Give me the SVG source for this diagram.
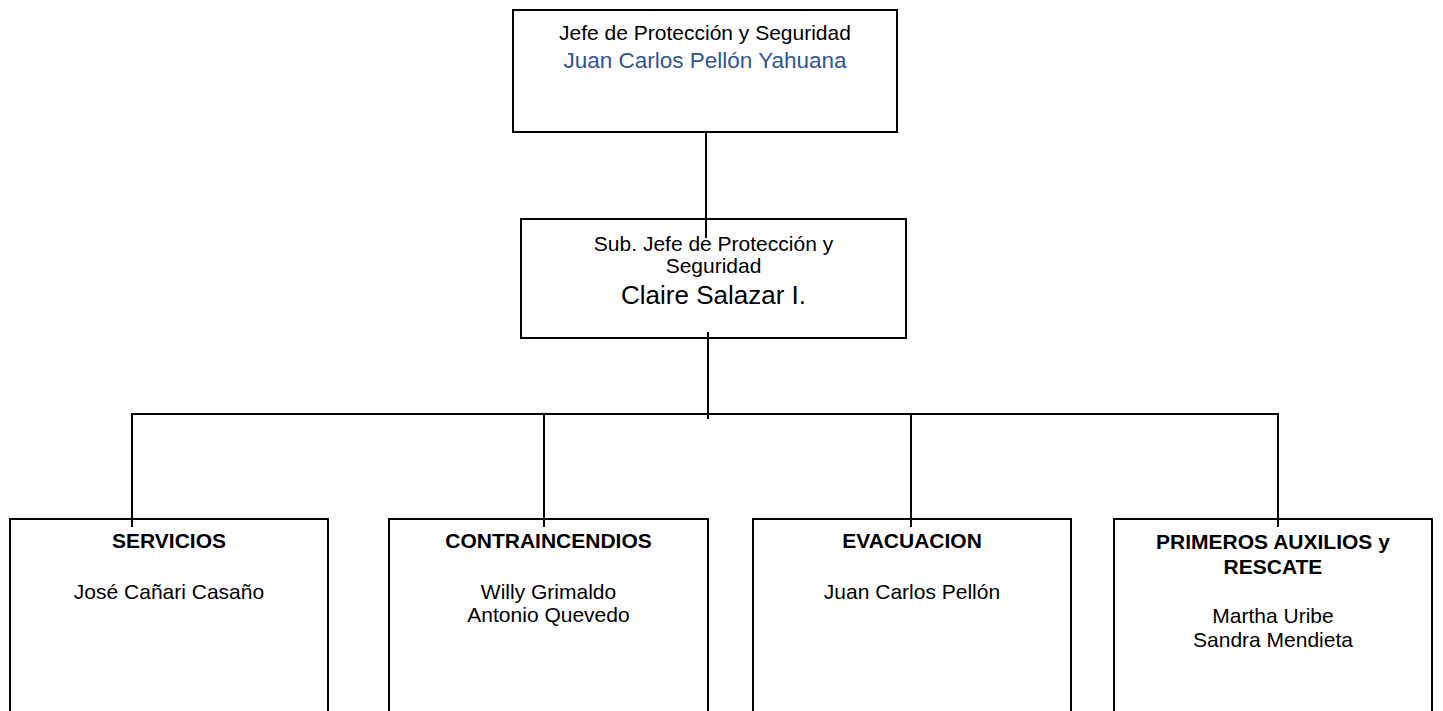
<svg xmlns="http://www.w3.org/2000/svg" width="1443" height="711" viewBox="0 0 1443 711">
<style>
.box{fill:#fff;stroke:#000;stroke-width:2}
.ln{stroke:#000;stroke-width:2;fill:none}
text{font-family:"Liberation Sans",Arial,sans-serif;text-anchor:middle;fill:#000}
.t{font-size:21px}
.b{font-size:21px;font-weight:bold}
.blue{fill:#2F5597;font-size:22.5px}
.big{font-size:26px}
</style>
<rect width="1443" height="711" fill="#fff"/>
<g id="jefe">
<rect class="box" x="513" y="10" width="384" height="122"/>
<text class="t" x="705" y="40">Jefe de Protección y Seguridad</text>
<text class="blue" x="705" y="67.5">Juan Carlos Pellón Yahuana</text>
</g>
<g id="subjefe">
<rect class="box" x="521" y="219" width="385" height="119"/>
<text class="t" x="713.5" y="251">Sub. Jefe de Protección y</text>
<text class="t" x="713.5" y="273">Seguridad</text>
<text class="big" x="713.5" y="304">Claire Salazar I.</text>
</g>
<g id="servicios">
<rect class="box" x="10" y="519" width="318" height="205"/>
<text class="b" x="169" y="548">SERVICIOS</text>
<text class="t" x="169" y="599">José Cañari Casaño</text>
</g>
<g id="contraincendios">
<rect class="box" x="389" y="519" width="319" height="205"/>
<text class="b" x="548.5" y="548">CONTRAINCENDIOS</text>
<text class="t" x="548.5" y="599">Willy Grimaldo</text>
<text class="t" x="548.5" y="622">Antonio Quevedo</text>
</g>
<g id="evacuacion">
<rect class="box" x="753" y="519" width="318" height="205"/>
<text class="b" x="912" y="548">EVACUACION</text>
<text class="t" x="912" y="599">Juan Carlos Pellón</text>
</g>
<g id="primeros-auxilios">
<rect class="box" x="1114" y="519" width="318" height="205"/>
<text class="b" x="1273" y="549">PRIMEROS AUXILIOS y</text>
<text class="b" x="1273" y="574">RESCATE</text>
<text class="t" x="1273" y="623">Martha Uribe</text>
<text class="t" x="1273" y="647">Sandra Mendieta</text>
</g>
<g id="connectors">
<line class="ln" x1="706" y1="132" x2="706" y2="238"/>
<line class="ln" x1="708" y1="332" x2="708" y2="419"/>
<line class="ln" x1="131" y1="414" x2="1279" y2="414"/>
<line class="ln" x1="132" y1="414" x2="132" y2="527"/>
<line class="ln" x1="544" y1="414" x2="544" y2="527"/>
<line class="ln" x1="911" y1="414" x2="911" y2="527"/>
<line class="ln" x1="1278" y1="414" x2="1278" y2="527"/>
</g>
</svg>
